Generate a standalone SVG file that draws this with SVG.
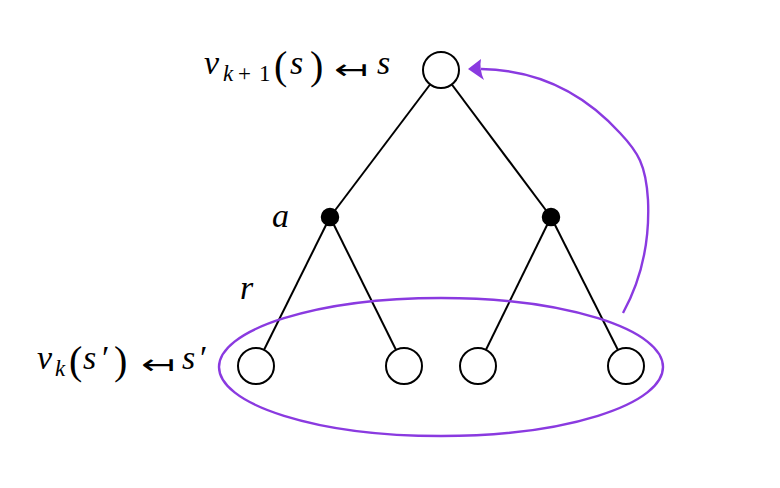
<svg xmlns="http://www.w3.org/2000/svg" width="780" height="488" viewBox="0 0 780 488">
<style>
.st{fill:#fff;stroke:#000;stroke-width:2}
.ch{fill:#000;stroke:#000;stroke-width:1.5}
.e{stroke:#000;stroke-width:2;fill:none}
.t{font-family:"Liberation Serif","DejaVu Serif",serif;font-size:34px;fill:#000}
.i{font-style:italic}
.sub{font-size:23px}
.par{font-size:40px}
.arr{font-family:"DejaVu Sans",sans-serif;font-size:28px;fill:#000}
.pur{stroke:#8a3ae0;stroke-width:2.4;fill:none}
.ph{fill:#8a3ae0}
</style>
<rect width="780" height="488" fill="#fff"/>
<g id="edges">
<line class="e" x1="441" y1="70" x2="330" y2="217"/>
<line class="e" x1="441" y1="70" x2="551" y2="217"/>
<line class="e" x1="330" y1="217" x2="256" y2="366"/>
<line class="e" x1="330" y1="217" x2="404" y2="366"/>
<line class="e" x1="551" y1="217" x2="478" y2="366"/>
<line class="e" x1="551" y1="217" x2="626" y2="366"/>
</g>
<g id="root"><circle class="st" cx="441" cy="70" r="18"/></g>
<g id="chanceL"><circle class="ch" cx="330" cy="217" r="8.5"/></g>
<g id="chanceR"><circle class="ch" cx="551" cy="217" r="8.5"/></g>
<g id="leaf1"><circle class="st" cx="256" cy="366" r="18"/></g>
<g id="leaf2"><circle class="st" cx="404" cy="366" r="18"/></g>
<g id="leaf3"><circle class="st" cx="478" cy="366" r="18"/></g>
<g id="leaf4"><circle class="st" cx="626" cy="366" r="18"/></g>
<g id="highlight">
<ellipse class="pur" cx="441" cy="367" rx="222" ry="69"/>
<path class="pur" d="M623,313 C640,282 650,245 648,200 C646,165 638,152 620,133 C590,100 545,70 481,69"/>
<path class="ph" d="M468,69 L481,59 Q479,69 484,80 Z"/>
</g>
<g id="labels">
<text class="t i" x="204" y="74">v</text>
<text class="t i sub" x="223" y="81">k</text>
<text class="t sub" x="238" y="81">+</text>
<text class="t sub" x="259" y="81">1</text>
<text class="t par" x="274" y="79">(</text>
<text class="t i" x="290" y="74">s</text>
<text class="t par" x="310" y="79">)</text>
<text class="arr" transform="translate(334,79) scale(1.45,1)">↤</text>
<text class="t i" x="377" y="74">s</text>

<text class="t i" x="37" y="369">v</text>
<text class="t i sub" x="55" y="376">k</text>
<text class="t par" x="69" y="374">(</text>
<text class="t i" x="83" y="369">s</text>
<text class="t" x="102" y="369">′</text>
<text class="t par" x="114" y="374">)</text>
<text class="arr" transform="translate(141,374) scale(1.45,1)">↤</text>
<text class="t i" x="182" y="369">s</text>
<text class="t" x="200" y="369">′</text>

<text class="t i" x="272" y="227">a</text>
<text class="t i" x="240" y="299">r</text>
</g>
</svg>
